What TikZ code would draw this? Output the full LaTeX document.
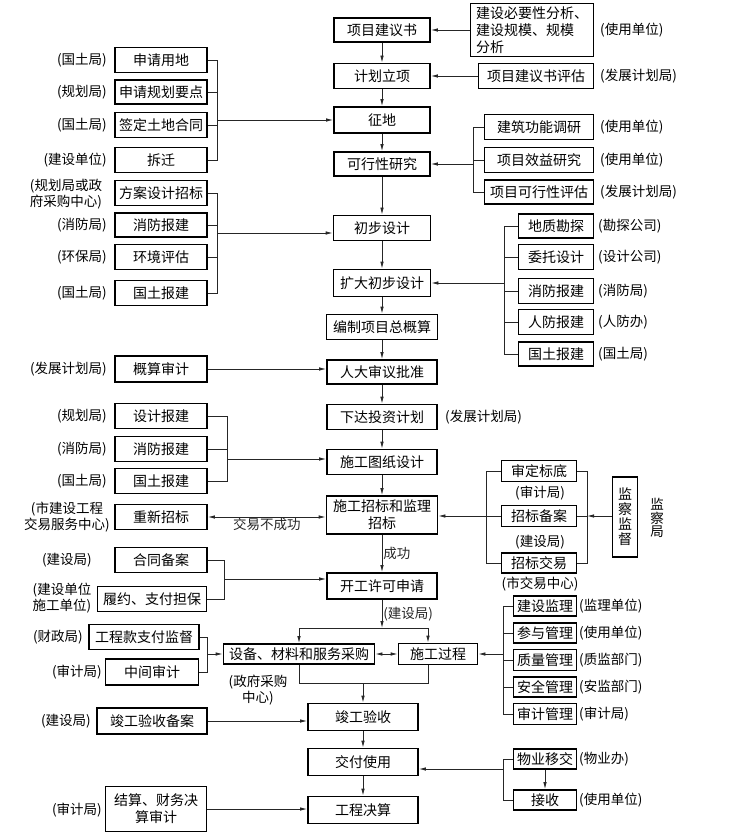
\documentclass[tikz,border=0pt]{standalone}
\usepackage{fontspec}
\setmainfont{Noto Sans CJK SC}
\usetikzlibrary{arrows.meta}
\usetikzlibrary{calc}

\begin{document}
\begin{tikzpicture}[x=1pt,y=-1pt,
  box/.style={draw,line width=1.8pt,inner sep=0pt,align=center,font=\fontsize{14}{17}\selectfont},
  sz/.style 2 args={minimum width=#1pt,minimum height=#2pt},
  lbl/.style={inner sep=1pt,align=center,font=\fontsize{13.5}{16}\selectfont},
  line/.style={black!85,line width=0.8pt},
  arr/.style={line,-{Latex[length=7pt,width=3.5pt]}},
  darr/.style={line,{Latex[length=7pt,width=3.5pt]}-{Latex[length=7pt,width=3.5pt]}}]
\useasboundingbox (0,0) rectangle (733,834);

% main column
\node[box,sz={96}{24}] (proposal) at (382,30) {项目建议书};
\node[box,sz={96}{25}] (approval) at (382,76) {计划立项};
\node[box,sz={96}{26}] (land) at (382,120) {征地};
\node[box,sz={96}{24}] (feas) at (382,164) {可行性研究};
\node[box,sz={97}{25}] (prelim) at (382,228) {初步设计};
\node[box,sz={97}{27}] (extprelim) at (382,283) {扩大初步设计};
\node[box,sz={111}{25}] (budget) at (382,327) {编制项目总概算};
\node[box,sz={110}{24}] (npc) at (382,372) {人大审议批准};
\node[box,sz={110}{25}] (invest) at (382,417) {下达投资计划};
\node[box,sz={110}{25}] (drawing) at (382,462) {施工图纸设计};
\node[box,sz={111}{38}] (tender) at (382,515) {施工招标和监理\\招标};
\node[box,sz={110}{26}] (permit) at (382,586) {开工许可申请};
\node[box,sz={151}{20}] (procure) at (299,654) {设备、材料和服务采购};
\node[box,sz={79}{21}] (construct) at (438,654) {施工过程};
\node[box,sz={110}{27}] (accept) at (363,717) {竣工验收};
\node[box,sz={110}{27}] (deliver) at (363,762) {交付使用};
\node[box,sz={110}{27}] (settle) at (363,810) {工程决算};

\foreach \a/\b in {proposal/approval,approval/land,land/feas,feas/prelim,prelim/extprelim,
  extprelim/budget,budget/npc,npc/invest,invest/drawing,drawing/tender,accept/deliver,deliver/settle}
  \draw[arr] (\a) -- (\b);
\draw[arr] (tender) -- node[lbl,right] (succ) {成功} (permit);

% top right
\node[box,sz={123}{53},align=left] (need) at (532,30) {建设必要性分析、\\建设规模、规模\\分析};
\node[lbl,anchor=west] (need-l) at (599,30) {(使用单位)};
\draw[arr] (need) -- (proposal);
\node[box,sz={115}{25}] (evalprop) at (536,76) {项目建议书评估};
\node[lbl,anchor=west] (evalprop-l) at (599,76) {(发展计划局)};
\draw[arr] (evalprop) -- (approval);

\node[box,sz={109}{25}] (func) at (539,127) {建筑功能调研};
\node[box,sz={109}{25}] (benefit) at (539,160) {项目效益研究};
\node[box,sz={109}{24}] (feaseval) at (539,192) {项目可行性评估};
\node[lbl,anchor=west] (func-l) at (599,127) {(使用单位)};
\node[lbl,anchor=west] (benefit-l) at (599,160) {(使用单位)};
\node[lbl,anchor=west] (feaseval-l) at (599,192) {(发展计划局)};
\coordinate (bfeas) at (473,164);
\draw[line] (func.west) -- (func.west -| bfeas) -- (feaseval.west -| bfeas) -- (feaseval.west);
\draw[line] (benefit.west) -- (benefit.west -| bfeas);
\draw[arr] (bfeas) -- (feas);

% land group
\node[box,sz={92}{25}] (sqyd) at (161,60) {申请用地};
\node[box,sz={92}{24}] (ghyd) at (161,92) {申请规划要点};
\node[box,sz={92}{25}] (tdht) at (161,125) {签定土地合同};
\node[box,sz={92}{25}] (cq) at (161,160) {拆迁};
\node[lbl,anchor=east] (sqyd-l) at (108,60) {(国土局)};
\node[lbl,anchor=east] (ghyd-l) at (108,92) {(规划局)};
\node[lbl,anchor=east] (tdht-l) at (108,125) {(国土局)};
\node[lbl,anchor=east] (cq-l) at (108,160) {(建设单位)};
\coordinate (bland) at (217,120);
\draw[line] (sqyd.east) -- (sqyd.east -| bland) -- (cq.east -| bland) -- (cq.east);
\draw[line] (ghyd.east) -- (ghyd.east -| bland);
\draw[line] (tdht.east) -- (tdht.east -| bland);
\draw[arr] (bland) -- (land);

% preliminary design group
\node[box,sz={92}{25}] (fasj) at (161,193) {方案设计招标};
\node[box,sz={92}{24}] (xfbj1) at (161,225) {消防报建};
\node[box,sz={92}{25}] (hjpg) at (161,257) {环境评估};
\node[box,sz={92}{25}] (gtbj1) at (161,293) {国土报建};
\node[lbl] (fasj-l) at (66,194) {(规划局或政\\府采购中心)};
\node[lbl,anchor=east] (xfbj1-l) at (108,225) {(消防局)};
\node[lbl,anchor=east] (hjpg-l) at (108,257) {(环保局)};
\node[lbl,anchor=east] (gtbj1-l) at (108,293) {(国土局)};
\coordinate (bprelim) at (217,233);
\draw[line] (fasj.east) -- (fasj.east -| bprelim) -- (gtbj1.east -| bprelim) -- (gtbj1.east);
\draw[line] (xfbj1.east) -- (xfbj1.east -| bprelim);
\draw[line] (hjpg.east) -- (hjpg.east -| bprelim);
\draw[arr] (bprelim) -- (bprelim -| prelim.west);

\node[box,sz={92}{26}] (gssj) at (161,369) {概算审计};
\node[lbl,anchor=east] (gssj-l) at (108,369) {(发展计划局)};
\draw[arr] (gssj.east) -- (gssj.east -| npc.west);

% extended design group
\node[box,sz={75}{24}] (dzkt) at (556,226) {地质勘探};
\node[box,sz={75}{25}] (wtsj) at (556,257) {委托设计};
\node[box,sz={75}{25}] (xfbj2) at (556,291) {消防报建};
\node[box,sz={75}{25}] (rfbj) at (556,322) {人防报建};
\node[box,sz={75}{24}] (gtbj2) at (556,354) {国土报建};
\node[lbl,anchor=west] (dzkt-l) at (597,226) {(勘探公司)};
\node[lbl,anchor=west] (wtsj-l) at (597,257) {(设计公司)};
\node[lbl,anchor=west] (xfbj2-l) at (597,291) {(消防局)};
\node[lbl,anchor=west] (rfbj-l) at (597,322) {(人防办)};
\node[lbl,anchor=west] (gtbj2-l) at (597,354) {(国土局)};
\coordinate (bext) at (504,283);
\draw[line] (dzkt.west) -- (dzkt.west -| bext) -- (gtbj2.west -| bext) -- (gtbj2.west);
\draw[line] (wtsj.west) -- (wtsj.west -| bext);
\draw[line] (xfbj2.west) -- (xfbj2.west -| bext);
\draw[line] (rfbj.west) -- (rfbj.west -| bext);
\draw[arr] (bext) -- (extprelim);

\node[lbl,anchor=west] (invest-l) at (444,417) {(发展计划局)};

% drawing group
\node[box,sz={92}{25}] (sjbj) at (161,416) {设计报建};
\node[box,sz={92}{25}] (xfbj3) at (161,449) {消防报建};
\node[box,sz={92}{25}] (gtbj3) at (161,481) {国土报建};
\node[lbl,anchor=east] (sjbj-l) at (108,416) {(规划局)};
\node[lbl,anchor=east] (xfbj3-l) at (108,449) {(消防局)};
\node[lbl,anchor=east] (gtbj3-l) at (108,481) {(国土局)};
\coordinate (bdraw) at (227,459);
\draw[line] (sjbj.east) -- (sjbj.east -| bdraw) -- (gtbj3.east -| bdraw) -- (gtbj3.east);
\draw[line] (xfbj3.east) -- (xfbj3.east -| bdraw);
\draw[arr] (bdraw) -- (bdraw -| drawing.west);

% tender
\node[box,sz={92}{25}] (cxzb) at (161,517) {重新招标};
\node[lbl] (cxzb-l) at (67,517) {(市建设工程\\交易服务中心)};
\draw[darr] (cxzb.east) -- node[lbl,below] (fail) {交易不成功} (cxzb.east -| tender.west);

\node[box,sz={75}{21}] (sdbd) at (539,471) {审定标底};
\node[lbl] (sdbd-l) at (540,493) {(审计局)};
\node[box,sz={75}{21}] (zbba) at (539,516) {招标备案};
\node[lbl] (zbba-l) at (540,542) {(建设局)};
\node[box,sz={75}{20}] (zbjy) at (539,563) {招标交易};
\node[lbl] (zbjy-l) at (540,584) {(市交易中心)};
\coordinate (btl) at (486,516);
\coordinate (btr) at (587,516);
\draw[line] (sdbd.west) -- (sdbd.west -| btl) -- (zbjy.west -| btl) -- (zbjy.west);
\draw[line] (zbba.west) -- (btl);
\draw[line] (sdbd.east) -- (sdbd.east -| btr) -- (zbjy.east -| btr) -- (zbjy.east);
\draw[line] (zbba.east) -- (btr);
\draw[arr] (btl) -- (btl -| tender.east);
\node[box,sz={25}{80},font=\fontsize{14}{15}\selectfont] (jcjd) at (625,517) {监\\察\\监\\督};
\node[lbl,font=\fontsize{13.5}{13.8}\selectfont] (jcj) at (657,518) {监\\察\\局};
\draw[arr] (jcjd.west |- btr) -- (btr);

% permit
\node[box,sz={92}{25}] (htba) at (161,560) {合同备案};
\node[lbl,anchor=east] (htba-l) at (93,560) {(建设局)};
\node[box,sz={109}{25}] (lyzf) at (152,599) {履约、支付担保};
\node[lbl] (lyzf-l) at (62,598) {(建设单位\\施工单位)};
\coordinate (bpermit) at (224,579);
\draw[line] (htba.east) -- (htba.east -| bpermit) -- (lyzf.east -| bpermit) -- (lyzf.east);
\draw[arr] (bpermit) -- (bpermit -| permit.west);

\coordinate (split) at (382,628);
\coordinate (sl) at (299,628);
\coordinate (sr) at (428,628);
\draw[arr] (permit) -- node[lbl,right] (permit-l) {(建设局)} (split);
\draw[line] (sl) -- (sr);
\draw[arr] (sl) -- (sl |- procure.north);
\draw[arr] (sr) -- (sr |- construct.north);
\draw[darr] (procure) -- (construct);

% procurement
\node[box,sz={110}{25}] (gckz) at (144,637) {工程款支付监督};
\node[lbl,anchor=east] (gckz-l) at (84,637) {(财政局)};
\node[box,sz={93}{26}] (zjsj) at (152,672) {中间审计};
\node[lbl,anchor=east] (zjsj-l) at (103,672) {(审计局)};
\coordinate (bproc) at (207,654);
\draw[line] (gckz.east) -- (gckz.east -| bproc) -- (zjsj.east -| bproc) -- (zjsj.east);
\draw[arr] (bproc) -- (procure);
\node[lbl] (procure-l) at (258,690) {(政府采购\\中心)};

% construction
\node[box,sz={63}{20}] (jsjl) at (545,606) {建设监理};
\node[box,sz={63}{20}] (cygl) at (545,633) {参与管理};
\node[box,sz={63}{21}] (zlgl) at (545,660) {质量管理};
\node[box,sz={63}{20}] (aqgl) at (545,687) {安全管理};
\node[box,sz={63}{21}] (sjgl) at (545,714) {审计管理};
\node[lbl,anchor=west] (jsjl-l) at (578,606) {(监理单位)};
\node[lbl,anchor=west] (cygl-l) at (578,633) {(使用单位)};
\node[lbl,anchor=west] (zlgl-l) at (578,660) {(质监部门)};
\node[lbl,anchor=west] (aqgl-l) at (578,687) {(安监部门)};
\node[lbl,anchor=west] (sjgl-l) at (578,714) {(审计局)};
\coordinate (bcons) at (503,654);
\draw[line] (jsjl.west) -- (jsjl.west -| bcons) -- (sjgl.west -| bcons) -- (sjgl.west);
\draw[line] (cygl.west) -- (cygl.west -| bcons);
\draw[line] (zlgl.west) -- (zlgl.west -| bcons);
\draw[line] (aqgl.west) -- (aqgl.west -| bcons);
\draw[arr] (bcons) -- (construct);

\coordinate (ml) at (299,683);
\coordinate (mr) at (428,683);
\draw[line] (procure.south -| ml) -- (ml) -- (mr) -- (construct.south -| mr);
\draw[arr] (accept |- ml) -- (accept);

% acceptance and delivery
\node[box,sz={110}{26}] (jgba) at (152,721) {竣工验收备案};
\node[lbl,anchor=east] (jgba-l) at (92,721) {(建设局)};
\draw[arr] (jgba.east) -- (jgba.east -| accept.west);

\node[box,sz={63}{20}] (wyyj) at (545,759) {物业移交};
\node[lbl,anchor=west] (wyyj-l) at (578,759) {(物业办)};
\node[box,sz={63}{20}] (js) at (545,800) {接收};
\node[lbl,anchor=west] (js-l) at (578,800) {(使用单位)};
\draw[arr] (wyyj) -- (js);
\coordinate (bdel) at (503,769);
\draw[line] (wyyj.west) -- (wyyj.west -| bdel) -- (js.west -| bdel) -- (js.west);
\draw[arr] (bdel) -- (bdel -| deliver.east);

\node[box,sz={101}{45}] (jscw) at (156,809) {结算、财务决\\算审计};
\node[lbl,anchor=east] (jscw-l) at (103,810) {(审计局)};
\draw[arr] (jscw.east) -- (jscw.east -| settle.west);

\end{tikzpicture}
\end{document}
